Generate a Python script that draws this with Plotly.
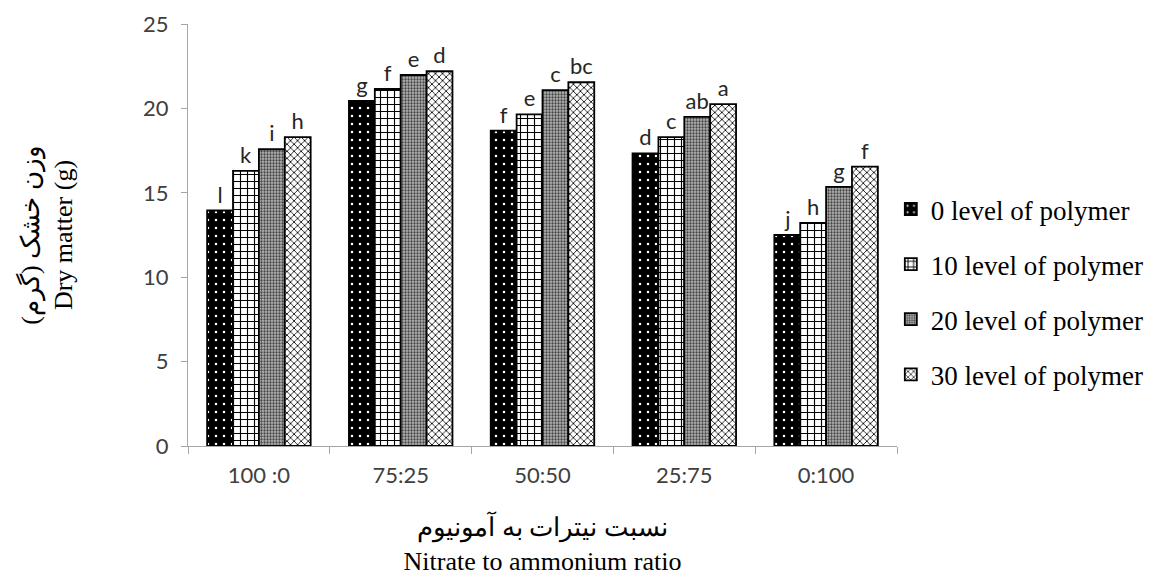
import plotly.graph_objects as go

categories = ["100 :0", "75:25", "50:50", "25:75", "0:100"]
series_names = ["0 level of polymer", "10 level of polymer", "20 level of polymer", "30 level of polymer"]
vals_0 = [13.95, 20.45, 18.68, 17.33, 12.5]
vals_10 = [16.3, 21.15, 19.65, 18.3, 13.22]
vals_20 = [17.58, 21.98, 21.08, 19.5, 15.35]
vals_30 = [18.3, 22.2, 21.55, 20.25, 16.55]
letters_0 = ["l", "g", "f", "d", "j"]
letters_10 = ["k", "f", "e", "c", "h"]
letters_20 = ["i", "e", "c", "ab", "g"]
letters_30 = ["h", "d", "bc", "a", "f"]

values = [vals_0, vals_10, vals_20, vals_30]
letters = [letters_0, letters_10, letters_20, letters_30]
patterns = [
    dict(shape=".", fgcolor="white", bgcolor="black", size=8, solidity=0.08, fillmode="replace"),
    dict(shape="+", fgcolor="black", bgcolor="white", size=7, solidity=0.3, fillmode="replace"),
    dict(shape=".", fgcolor="#444444", bgcolor="#b4b4b4", size=3, solidity=0.45, fillmode="replace"),
    dict(shape="x", fgcolor="black", bgcolor="white", size=5, solidity=0.3, fillmode="replace"),
]

SANS = "Lato, Open Sans, sans-serif"
SERIF = "Liberation Serif, Times New Roman, serif"

fig = go.Figure()
for i in range(4):
    fig.add_trace(go.Bar(
        x=categories, y=values[i], name=series_names[i],
        text=letters[i], textposition="outside",
        textfont=dict(family=SANS, size=22, color="#262626"),
        marker=dict(color="white", line=dict(color="black", width=1.8), pattern=patterns[i]),
        cliponaxis=False, legendgroup=f"g{i}",
    ))

fig.update_layout(
    width=1151, height=570,
    margin=dict(l=180, r=262, t=16, b=132, autoexpand=False),
    plot_bgcolor="white", paper_bgcolor="white",
    barmode="group", bargap=0.27, bargroupgap=0.0,
    showlegend=True,
    legend=dict(xref="container", x=0.767, y=0.365, xanchor="left", yanchor="middle",
                font=dict(family=SERIF, size=27, color="black"),
                tracegroupgap=17, traceorder="grouped", itemwidth=30),
    xaxis=dict(
        showline=True, linecolor="#a6a6a6", linewidth=1,
        ticks="outside", tickson="boundaries", ticklen=7, tickcolor="#a6a6a6",
        tickfont=dict(family=SANS, size=22, color="#404040"),
        ticklabelstandoff=10,
        automargin=False,
        title=dict(text="نسبت نیترات به آمونیوم<br>Nitrate to ammonium ratio",
                   font=dict(family=SERIF, size=26, color="black"),
                   standoff=30),
    ),
    yaxis=dict(
        range=[0, 25], dtick=5, showgrid=False, zeroline=False,
        showline=True, linecolor="#a6a6a6", linewidth=1,
        ticks="outside", ticklen=6, tickcolor="#a6a6a6",
        tickfont=dict(family=SANS, size=22, color="#404040"),
        ticklabelstandoff=8,
        automargin=False,
        title=dict(text="وزن خشک (گرم)<br>Dry matter (g)",
                   font=dict(family=SERIF, size=26, color="black"),
                   standoff=62),
    ),
)

fig.write_html("out.html")
